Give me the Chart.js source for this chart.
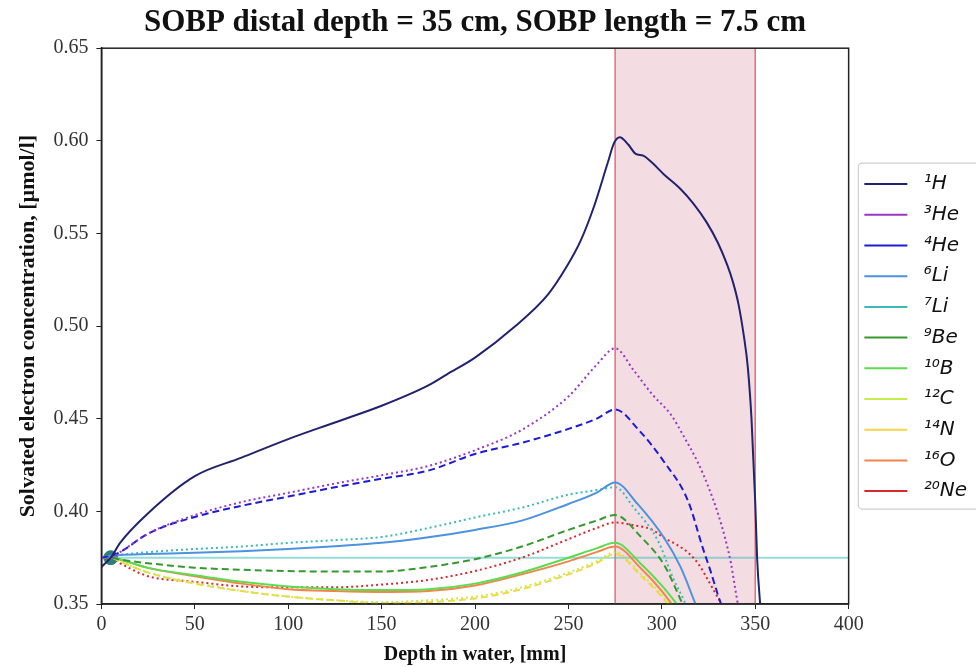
<!DOCTYPE html>
<html>
<head>
<meta charset="utf-8">
<script src="https://cdn.jsdelivr.net/npm/chart.js@4.4.1/dist/chart.umd.min.js"></script>
<style>
  html, body { margin: 0; padding: 0; background: #fff; }
  #wrap { width: 976px; height: 667px; }
</style>
</head>
<body>
<div id="wrap"><canvas id="myChart" width="976" height="667"></canvas></div>
<script>
// depth in water, mm
const depthRise = [0, 5, 10, 25, 50, 75, 100, 125, 150, 175, 200, 225, 250, 265, 275];

// 1H is sampled more densely near the peak
const h1Depth = [0, 5, 10, 25, 50, 75, 100, 125, 150, 175, 185, 200, 221, 239, 249, 256.5, 263.5, 271, 274.5,
  277.5, 282, 286, 290, 295, 301, 310, 317, 324, 330, 335, 338, 341, 344, 346, 348, 350, 351, 353];
const h1Conc = [0.370, 0.375, 0.383, 0.399, 0.419, 0.429, 0.439, 0.448, 0.457, 0.468, 0.474, 0.483, 0.4995, 0.517, 0.532, 0.546, 0.564, 0.588, 0.599,
  0.602, 0.598, 0.593, 0.592, 0.588, 0.582, 0.574, 0.566, 0.556, 0.545, 0.533, 0.524, 0.512, 0.494, 0.478, 0.450, 0.405, 0.375, 0.345];

const he3Rise = [0.375, 0.375, 0.378, 0.388, 0.398, 0.405, 0.410, 0.415, 0.4195, 0.4245, 0.433, 0.444, 0.462, 0.479, 0.488];
const he3TailX = [285, 295, 305, 312, 319, 325, 330, 334, 337, 339, 341];
const he3TailY = [0.476, 0.463, 0.452, 0.440, 0.427, 0.413, 0.399, 0.385, 0.372, 0.360, 0.348];

const he4Rise = [0.375, 0.376, 0.378, 0.388, 0.397, 0.403, 0.408, 0.413, 0.4176, 0.422, 0.431, 0.437, 0.4445, 0.450, 0.455];
const he4TailX = [288, 301, 314, 322, 326, 330, 332];
const he4TailY = [0.4435, 0.427, 0.4057, 0.380, 0.368, 0.355, 0.349];

const li6Rise = [0.375, 0.376, 0.3765, 0.377, 0.3776, 0.3785, 0.3797, 0.3812, 0.383, 0.386, 0.390, 0.395, 0.404, 0.410, 0.4156];
const li6TailX = [287, 301, 310, 318];
const li6TailY = [0.404, 0.386, 0.370, 0.350];

const li7Rise = [0.375, 0.376, 0.3765, 0.378, 0.3797, 0.381, 0.383, 0.3845, 0.3862, 0.391, 0.3967, 0.402, 0.409, 0.4115, 0.413];
const li7TailX = [285, 298, 306, 312, 313];
const li7TailY = [0.402, 0.384, 0.364, 0.3516, 0.349];

const be9Rise = [0.375, 0.375, 0.374, 0.372, 0.3696, 0.3685, 0.3678, 0.3675, 0.3675, 0.370, 0.3742, 0.381, 0.390, 0.395, 0.398];
const be9TailX = [289, 301, 308, 311];
const be9TailY = [0.386, 0.3715, 0.357, 0.350];

const b10Rise = [0.375, 0.375, 0.374, 0.3695, 0.3655, 0.362, 0.3595, 0.358, 0.3575, 0.358, 0.361, 0.367, 0.375, 0.380, 0.383];
const b10TailX = [289, 301, 308];
const b10TailY = [0.3715, 0.3588, 0.350];

const c12Rise = [0.375, 0.375, 0.373, 0.367, 0.3615, 0.357, 0.354, 0.352, 0.351, 0.352, 0.354, 0.359, 0.367, 0.373, 0.378];
const c12TailX = [289, 300, 305];
const c12TailY = [0.366, 0.355, 0.349];

const n14Rise = [0.375, 0.375, 0.373, 0.367, 0.361, 0.357, 0.354, 0.352, 0.3505, 0.351, 0.353, 0.358, 0.366, 0.372, 0.377];
const n14TailX = [289, 300, 304];
const n14TailY = [0.365, 0.354, 0.349];

const o16Rise = [0.375, 0.375, 0.374, 0.3695, 0.365, 0.361, 0.358, 0.357, 0.3565, 0.357, 0.360, 0.366, 0.373, 0.378, 0.381];
const o16TailX = [289, 300, 306];
const o16TailY = [0.369, 0.357, 0.349];

const ne20Rise = [0.375, 0.375, 0.372, 0.365, 0.362, 0.3595, 0.359, 0.359, 0.3605, 0.363, 0.3678, 0.375, 0.385, 0.391, 0.394];
const ne20TailX = [285, 295, 301, 308, 315, 320, 324, 328, 332];
const ne20TailY = [0.3925, 0.390, 0.3858, 0.382, 0.3769, 0.371, 0.3642, 0.357, 0.350];

const ionLabels = ["¹H", "³He", "⁴He", "⁶Li", "⁷Li", "⁹Be", "¹⁰B", "¹²C", "¹⁴N", "¹⁶O", "²⁰Ne"];

const sobpStart = 275;
const sobpEnd = 350;
const baseline = 0.375;
const xTicks = [0, 50, 100, 150, 200, 250, 300, 350, 400];

function pts(rise, tailX, tailY) {
  const out = [];
  for (let i = 0; i < depthRise.length; i++) out.push({ x: depthRise[i], y: rise[i] });
  for (let i = 0; i < tailX.length; i++) out.push({ x: tailX[i], y: tailY[i] });
  return out;
}

function pairs(xs, ys) {
  return xs.map((x, i) => ({ x: x, y: ys[i] }));
}

const DOT = [2, 3];
const DASH = [7, 4];

function line(label, data, color, dash, width) {
  return {
    label: label,
    data: data,
    borderColor: color,
    backgroundColor: color,
    borderWidth: width || 2,
    borderDash: dash || [],
    pointRadius: 0,
    cubicInterpolationMode: "monotone",
    fill: false,
  };
}

const legendShift = 5;

const sobpBand = {
  id: "sobpBand",
  afterLayout(chart) {
    // nudge the legend a little to the right, like the original
    const lg = chart.legend;
    lg.left += legendShift;
    lg.right += legendShift;
    (lg.legendHitBoxes || []).forEach((b) => { b.left += legendShift; });
  },
  beforeDatasetsDraw(chart) {
    const { ctx, chartArea, scales } = chart;
    const x1 = scales.x.getPixelForValue(sobpStart);
    const x2 = scales.x.getPixelForValue(sobpEnd);
    ctx.save();
    ctx.fillStyle = "rgba(205, 110, 130, 0.23)";
    ctx.fillRect(x1, chartArea.top, x2 - x1, chartArea.bottom - chartArea.top);
    ctx.strokeStyle = "#e0707c";
    ctx.lineWidth = 1.5;
    ctx.beginPath();
    ctx.moveTo(x1, chartArea.top); ctx.lineTo(x1, chartArea.bottom);
    ctx.moveTo(x2, chartArea.top); ctx.lineTo(x2, chartArea.bottom);
    ctx.stroke();
    ctx.restore();
  },
  afterDraw(chart) {
    const { ctx, chartArea } = chart;
    ctx.save();
    ctx.strokeStyle = "#222";
    ctx.lineWidth = 1.5;
    ctx.strokeRect(chartArea.left, chartArea.top, chartArea.right - chartArea.left, chartArea.bottom - chartArea.top);
    // legend frame
    const boxes = chart.legend.legendHitBoxes;
    if (boxes && boxes.length) {
      const top = boxes[0].top - 11;
      const bottom = boxes[boxes.length - 1].top + boxes[boxes.length - 1].height + 8;
      const left = boxes[0].left - 11;
      ctx.strokeStyle = "#cfcfcf";
      ctx.lineWidth = 1.2;
      ctx.beginPath();
      ctx.roundRect(left, top, 200, bottom - top, 4);
      ctx.stroke();
    }
    ctx.restore();
  },
};

const ctx = document.getElementById("myChart");

new Chart(ctx, {
  type: "line",
  data: {
    datasets: [
      line(ionLabels[0], pairs(h1Depth, h1Conc), "#22236f", null, 2),
      line(ionLabels[1], pts(he3Rise, he3TailX, he3TailY), "#9a35c4", DOT, 2),
      line(ionLabels[2], pts(he4Rise, he4TailX, he4TailY), "#1c1cd6", DASH, 2),
      line(ionLabels[3], pts(li6Rise, li6TailX, li6TailY), "#4b93df", null, 2),
      line(ionLabels[4], pts(li7Rise, li7TailX, li7TailY), "#3cbaba", DOT, 2),
      line(ionLabels[5], pts(be9Rise, be9TailX, be9TailY), "#34992f", DASH, 2),
      line(ionLabels[6], pts(b10Rise, b10TailX, b10TailY), "#5cdc50", null, 2),
      line(ionLabels[7], pts(c12Rise, c12TailX, c12TailY), "#c4ee48", DOT, 2),
      line(ionLabels[8], pts(n14Rise, n14TailX, n14TailY), "#f5d54a", DASH, 2),
      line(ionLabels[9], pts(o16Rise, o16TailX, o16TailY), "#f4844a", null, 2),
      line(ionLabels[10], pts(ne20Rise, ne20TailX, ne20TailY), "#d8282c", DOT, 2),
      {
        label: "baseline",
        data: [{ x: 0, y: baseline }, { x: 400, y: baseline }],
        borderColor: "rgba(70, 190, 190, 0.55)",
        borderWidth: 2,
        pointRadius: 0,
        fill: false,
      },
      {
        label: "start",
        data: [{ x: 5, y: baseline }],
        borderColor: "#2e7f7c",
        backgroundColor: "#2e7f7c",
        pointRadius: 7,
        showLine: false,
      },
    ],
  },
  options: {
    responsive: false,
    animation: false,
    devicePixelRatio: 1,
    layout: { padding: { left: 15, right: 4, top: 0, bottom: 0 } },
    scales: {
      x: {
        type: "linear",
        min: 0,
        max: 400,
        afterBuildTicks: (axis) => { axis.ticks = xTicks.map((v) => ({ value: v })); },
        grid: { drawOnChartArea: false, drawTicks: true, tickLength: 5, color: "#222" },
        border: { color: "#222", width: 1.5 },
        ticks: { color: "#333", font: { family: "Liberation Serif", size: 20 }, padding: 4 },
        title: {
          display: true,
          text: "Depth in water, [mm]",
          color: "#111",
          font: { family: "Liberation Serif", size: 20, weight: "bold" },
          padding: { top: 2, bottom: 0 },
        },
      },
      y: {
        min: 0.35,
        max: 0.65,
        ticks: {
          stepSize: 0.05,
          color: "#333",
          font: { family: "Liberation Serif", size: 20 },
          padding: 8,
          callback: (v) => v.toFixed(2),
        },
        grid: { drawOnChartArea: false, drawTicks: true, tickLength: 5, color: "#222" },
        border: { color: "#222", width: 1.5 },
        title: {
          display: true,
          text: "Solvated electron concentration, [µmol/l]",
          color: "#111",
          font: { family: "Liberation Serif", size: 22, weight: "bold" },
          padding: { top: 0, bottom: 4 },
        },
      },
    },
    plugins: {
      title: {
        display: true,
        fullSize: false,
        text: "SOBP distal depth = 35 cm, SOBP length = 7.5 cm",
        color: "#111",
        font: { family: "Liberation Serif", size: 31, weight: "bold" },
        padding: { top: 4, bottom: 7 },
      },
      legend: {
        position: "right",
        title: { display: true, text: "", font: { size: 1 }, padding: { top: 7, bottom: 0 } },
        labels: {
          usePointStyle: true,
          pointStyle: "line",
          pointStyleWidth: 43,
          color: "#111",
          font: { family: "DejaVu Sans", size: 20, style: "italic" },
          padding: 10.7,
          filter: (item) => item.datasetIndex < ionLabels.length,
          generateLabels: (chart) =>
            Chart.defaults.plugins.legend.labels.generateLabels(chart).map((item) => {
              item.text = " " + item.text;
              return item;
            }),
        },
      },
      tooltip: { enabled: false },
    },
  },
  plugins: [sobpBand],
});
</script>
</body>
</html>
